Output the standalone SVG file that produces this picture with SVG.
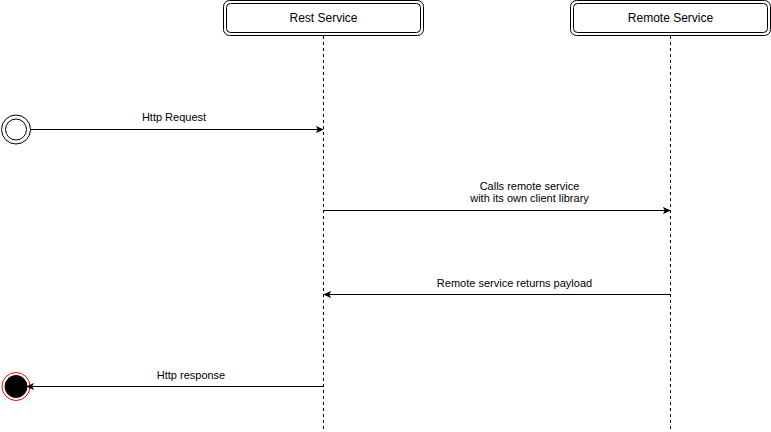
<svg xmlns="http://www.w3.org/2000/svg" width="771" height="432" viewBox="0 0 771 432">
<defs>
<style>
text{font-family:"Liberation Sans",Arial,sans-serif;font-size:11px;fill:#000;text-anchor:middle}
text.title{font-size:12px}
.box{fill:#fff;stroke:#000;stroke-width:1}
.life{stroke:#000;stroke-width:1;stroke-dasharray:3 3;fill:none}
.msg{stroke:#000;stroke-width:1;fill:none;marker-end:url(#arr)}
</style>
<marker id="arr" viewBox="0 0 10 10" refX="9" refY="5" markerWidth="8" markerHeight="8" markerUnits="userSpaceOnUse" orient="auto">
<path d="M0,0.5 L10,5 L0,9.5 L2.5,5 Z" fill="#000"/>
</marker>
</defs>
<rect width="771" height="432" fill="#fff"/>
<g id="rest-service">
<rect class="box" x="223.5" y="0.5" width="200" height="35" rx="6"/>
<rect class="box" x="226.5" y="3.5" width="194" height="29" rx="4"/>
<text class="title" x="323.5" y="22">Rest Service</text>
<line class="life" x1="323.5" y1="36" x2="323.5" y2="432"/>
</g>
<g id="remote-service">
<rect class="box" x="570.5" y="0.5" width="200" height="35" rx="6"/>
<rect class="box" x="573.5" y="3.5" width="194" height="29" rx="4"/>
<text class="title" x="670.5" y="22">Remote Service</text>
<line class="life" x1="670.5" y1="36" x2="670.5" y2="432"/>
</g>
<g id="initial">
<circle cx="16" cy="129.5" r="14.5" fill="#fff" stroke="#000"/>
<circle cx="16" cy="129.5" r="10.5" fill="#fff" stroke="#000"/>
</g>
<g id="final">
<circle cx="16" cy="386.5" r="14" fill="#fff" stroke="#ff0000"/>
<circle cx="16" cy="386.5" r="11" fill="#000" stroke="#000"/>
</g>
<g id="connectors">
<line class="msg" x1="30.5" y1="129.5" x2="323" y2="129.5"/>
<text x="174" y="121">Http Request</text>
<line class="msg" x1="323.5" y1="210.5" x2="670" y2="210.5"/>
<text x="529.5" y="190">Calls remote service</text>
<text x="529.5" y="202">with its own client library</text>
<line class="msg" x1="670.5" y1="294.5" x2="324" y2="294.5"/>
<text x="514.5" y="287">Remote service returns payload</text>
<line class="msg" x1="323.5" y1="386.5" x2="27" y2="386.5"/>
<text x="191" y="379">Http response</text>
</g>
</svg>
